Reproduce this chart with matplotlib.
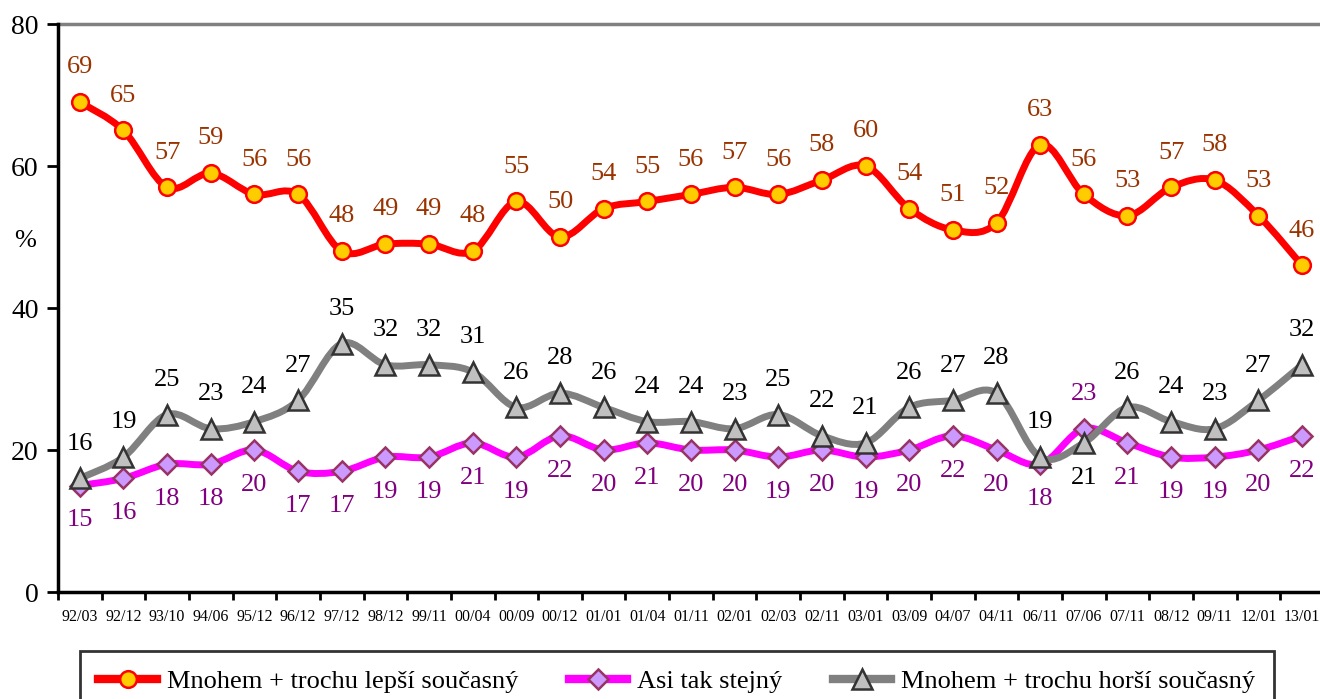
import numpy as np
import matplotlib
matplotlib.use("Agg")
import matplotlib.pyplot as plt
from matplotlib.path import Path
from matplotlib.patches import PathPatch
from matplotlib.lines import Line2D

plt.rcParams['font.family'] = ['Liberation Serif', 'DejaVu Serif']

# survey waves
periods = ["92/03", "92/12", "93/10", "94/06", "95/12", "96/12", "97/12", "98/12",
           "99/11", "00/04", "00/09", "00/12", "01/01", "01/04", "01/11", "02/01",
           "02/03", "02/11", "03/01", "03/09", "04/07", "04/11", "06/11", "07/06",
           "07/11", "08/12", "09/11", "12/01", "13/01"]

# values in %
better = [69, 65, 57, 59, 56, 56, 48, 49, 49, 48, 55, 50, 54, 55, 56, 57, 56, 58,
          60, 54, 51, 52, 63, 56, 53, 57, 58, 53, 46]
same = [15, 16, 18, 18, 20, 17, 17, 19, 19, 21, 19, 22, 20, 21, 20, 20, 19, 20,
        19, 20, 22, 20, 18, 23, 21, 19, 19, 20, 22]
worse = [16, 19, 25, 23, 24, 27, 35, 32, 32, 31, 26, 28, 26, 24, 24, 23, 25, 22,
         21, 26, 27, 28, 19, 21, 26, 24, 23, 27, 32]

names = ["Mnohem + trochu lepší současný", "Asi tak stejný", "Mnohem + trochu horší současný"]


def smooth_path(xs, ys):
    # Excel-like smoothed line: bezier segments through the data points
    pts = np.column_stack([xs, ys]).astype(float)
    n = len(pts)
    verts = [pts[0]]
    codes = [Path.MOVETO]
    for i in range(n - 1):
        p0 = pts[i - 1] if i > 0 else pts[i]
        p1 = pts[i]
        p2 = pts[i + 1]
        p3 = pts[i + 2] if i + 2 < n else pts[i + 1]
        verts += [p1 + (p2 - p0) / 6, p2 - (p3 - p1) / 6, p2]
        codes += [Path.CURVE4] * 3
    return Path(verts, codes)


fig = plt.figure(figsize=(13.2, 6.99), dpi=100)
ax = fig.add_axes([58 / 1320, 1 - 592 / 699, 1 - 58 / 1320, (592 - 24) / 699])

x = np.arange(len(periods))

styles = [
    dict(data=better, line='#FF0000', marker='o', mfc='#FFCC00', mec='#FF0000', ms=12,
         lab='#993300', below=[]),
    dict(data=same, line='#FF00FF', marker='D', mfc='#CC99FF', mec='#993366', ms=10,
         lab='#800080', below=None),
    dict(data=worse, line='#808080', marker='^', mfc='#C0C0C0', mec='#333333', ms=14,
         lab='black', below=[23]),
]

handles = []
for k, s in enumerate(styles):
    z = 2 + k
    ax.add_patch(PathPatch(smooth_path(x, s['data']), facecolor='none', edgecolor=s['line'],
                           lw=5, capstyle='round', joinstyle='round', zorder=z))
    ax.plot(x, s['data'], linestyle='none', marker=s['marker'], ms=s['ms'],
            mfc=s['mfc'], mec=s['mec'], mew=1.8, zorder=z + 0.5)
    for i, v in enumerate(s['data']):
        if s['below'] is None:
            down = i != 23
        else:
            down = i in s['below']
        ax.annotate(str(v), (i, v), xytext=(0, -25 if down else 25), textcoords='offset points',
                    ha='center', va='center', fontsize=19, color=s['lab'], zorder=10)
    handles.append(Line2D([], [], color=s['line'], lw=6, marker=s['marker'], ms=s['ms'],
                          mfc=s['mfc'], mec=s['mec'], mew=1.8))

ax.set_xlim(-0.5, 28.41)
ax.set_ylim(0, 80)
ax.set_yticks([0, 20, 40, 60, 80])
ax.tick_params(axis='y', labelsize=20, length=8, width=2, direction='out', pad=6)
ax.set_xticks(x)
ax.set_xticklabels(periods, fontsize=11.5)
ax.set_xticks(np.arange(len(periods)) - 0.5, minor=True)
ax.tick_params(axis='x', which='major', length=0, pad=12)
ax.tick_params(axis='x', which='minor', length=6, width=2, direction='out')

for side in ['right', 'top']:
    ax.spines[side].set_visible(False)
for side in ['left', 'bottom']:
    ax.spines[side].set_linewidth(2.5)
ax.axhline(80, color='#808080', lw=2.5, zorder=1, clip_on=False)

fig.text(25 / 1320, 1 - 241 / 699, '%', fontsize=19, ha='center', va='center')

leg = fig.legend(handles, names, loc='upper left', bbox_to_anchor=(80 / 1320, 1 - 651 / 699),
                 ncol=3, fontsize=19, frameon=True, fancybox=False, borderaxespad=0,
                 handlelength=2.2, handletextpad=0.4, columnspacing=1.9, borderpad=0.7)
leg.get_frame().set_edgecolor('black')
leg.get_frame().set_linewidth(2)

plt.savefig('out.png', dpi=100)
